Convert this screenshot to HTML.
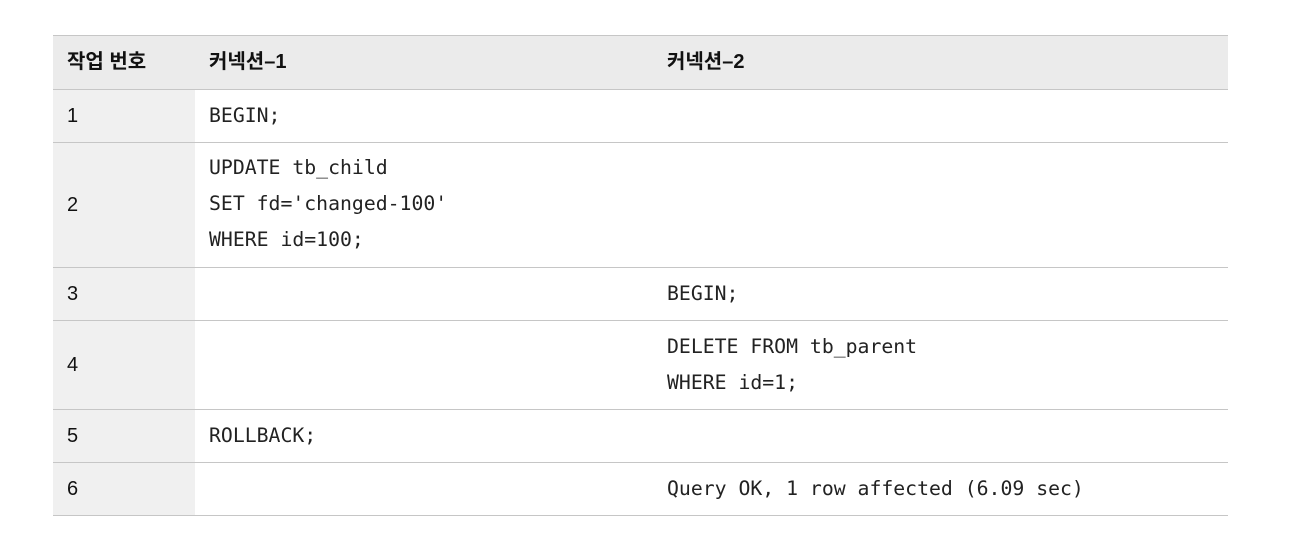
<!DOCTYPE html>
<html><head><meta charset="utf-8"><style>
body{margin:0;width:1304px;height:544px;background:#fff;position:relative;overflow:hidden}
.r{position:absolute;left:53px;width:1175px;border-bottom:1px solid #c6c6c6;box-sizing:border-box}
.c0{position:absolute;left:53px;width:142px;background:#f0f0f0}
.t{position:absolute;font-family:"Liberation Sans","Noto Sans CJK KR",sans-serif;font-size:20px;color:#111;line-height:36px}
.m{position:absolute;font-family:"DejaVu Sans Mono","Liberation Mono",monospace;font-size:19.8px;color:#222;line-height:36px;white-space:pre}
</style></head><body>
<div style="position:absolute;left:53px;top:35px;width:1175px;height:54px;background:#ebebeb;border-top:1px solid #c6c6c6;box-sizing:border-box"></div>
<div class="c0" style="top:89px;height:426px"></div>
<div class="r" style="top:35px;height:55px"></div>
<div class="r" style="top:89px;height:54px"></div>
<div class="r" style="top:142px;height:126px"></div>
<div class="r" style="top:267px;height:54px"></div>
<div class="r" style="top:320px;height:90px"></div>
<div class="r" style="top:409px;height:54px"></div>
<div class="r" style="top:462px;height:54px"></div>
<div class="t" style="left:67px;top:44px;font-weight:bold">작업 번호</div>
<div class="t" style="left:209px;top:44px;font-weight:bold">커넥션–1</div>
<div class="t" style="left:667px;top:44px;font-weight:bold">커넥션–2</div>
<div class="t" style="left:67px;top:98px">1</div>
<div class="t" style="left:67px;top:187px">2</div>
<div class="t" style="left:67px;top:276px">3</div>
<div class="t" style="left:67px;top:347px">4</div>
<div class="t" style="left:67px;top:418px">5</div>
<div class="t" style="left:67px;top:471px">6</div>
<div class="m" style="left:209px;top:98px">BEGIN;</div>
<div class="m" style="left:209px;top:150px">UPDATE tb_child
SET fd='changed-100'
WHERE id=100;</div>
<div class="m" style="left:667px;top:276px">BEGIN;</div>
<div class="m" style="left:667px;top:329px">DELETE FROM tb_parent
WHERE id=1;</div>
<div class="m" style="left:209px;top:418px">ROLLBACK;</div>
<div class="m" style="left:667px;top:471px">Query OK, 1 row affected (6.09 sec)</div>
</body></html>
